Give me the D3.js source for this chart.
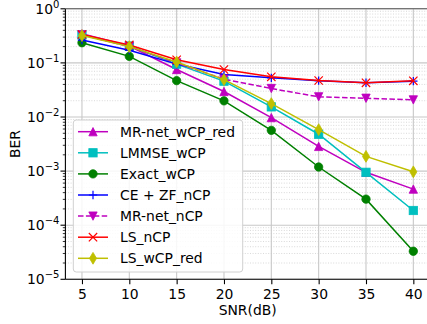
<!DOCTYPE html>
<html>
<head>
<meta charset="utf-8">
<script src="https://d3js.org/d3.v7.min.js"></script>
<style>
  body { margin: 0; background: #fff; }
  text { font-family: "DejaVu Sans", sans-serif; }
</style>
</head>
<body>
<div id="chart"></div>
<script>
// Data
const snr = [5, 10, 15, 20, 25, 30, 35, 40];
const mrnetWcpRed = [0.345, 0.205, 0.0756, 0.0296, 0.00975, 0.00286, 0.00095, 0.000465];
const lmmseWcp    = [0.33, 0.205, 0.095, 0.046, 0.0154, 0.0048, 0.00095, 0.000187];
const exactWcp    = [0.236, 0.132, 0.047, 0.0199, 0.00567, 0.00119, 0.000303, 0.000033];
const ceZfNcp     = [0.264, 0.172, 0.095, 0.061, 0.053, 0.047, 0.043, 0.046];
const mrnetNcp    = [0.33, 0.2, 0.1, 0.05, 0.0336, 0.0236, 0.0222, 0.0207];
const lsNcp       = [0.335, 0.215, 0.114, 0.0756, 0.0553, 0.0473, 0.0428, 0.0467];
const lsWcpRed    = [0.32, 0.2, 0.104, 0.049, 0.0177, 0.00584, 0.00187, 0.00097];
const yTickExps = [0, -1, -2, -3, -4, -5];

const series = [
  { name: "MR-net_wCP_red", values: mrnetWcpRed, color: "#bf00bf", marker: "triangleUp", dash: null },
  { name: "LMMSE_wCP", values: lmmseWcp, color: "#00bfbf", marker: "square", dash: null },
  { name: "Exact_wCP", values: exactWcp, color: "#008000", marker: "circle", dash: null },
  { name: "CE + ZF_nCP", values: ceZfNcp, color: "#0000ff", marker: "plus", dash: null },
  { name: "MR-net_nCP", values: mrnetNcp, color: "#bf00bf", marker: "triangleDown", dash: "5.5,2.4" },
  { name: "LS_nCP", values: lsNcp, color: "#ff0000", marker: "x", dash: null },
  { name: "LS_wCP_red", values: lsWcpRed, color: "#bfbf00", marker: "diamond", dash: null }
];

const width = 427, height = 324;
const mLeft = 65.4, mRight = 429.9, mTop = 8.8, mBottom = 279.3;
const fontSize = 13.9;

const svg = d3.select("#chart").append("svg")
  .attr("width", width).attr("height", height);

const x = d3.scaleLinear().domain([3.25, 41.75]).range([mLeft, mRight]);
const y = d3.scaleLog().domain([1e-5, 1]).range([mBottom, mTop]);

// minor grid
const minorVals = [];
for (let e = -5; e < 0; e++) for (let m = 2; m <= 9; m++) minorVals.push(m * Math.pow(10, e));

svg.append("g").selectAll("line").data(minorVals).enter().append("line")
  .attr("x1", mLeft).attr("x2", mRight)
  .attr("y1", d => y(d)).attr("y2", d => y(d))
  .attr("stroke", "#cfcfcf").attr("stroke-width", 0.8).attr("stroke-dasharray", "1,1.6");

// major grid
svg.append("g").selectAll("line").data(yTickExps).enter().append("line")
  .attr("x1", mLeft).attr("x2", mRight)
  .attr("y1", d => y(Math.pow(10, d))).attr("y2", d => y(Math.pow(10, d)))
  .attr("stroke", "#c8c8c8").attr("stroke-width", 1.1);
svg.append("g").selectAll("line").data(snr).enter().append("line")
  .attr("x1", d => x(d)).attr("x2", d => x(d))
  .attr("y1", mTop).attr("y2", mBottom)
  .attr("stroke", "#c8c8c8").attr("stroke-width", 1.1);

// x axis
const xAxis = svg.append("g").attr("transform", `translate(0,${mBottom})`)
  .call(d3.axisBottom(x).tickValues(snr).tickSize(4.9).tickPadding(4.5).tickFormat(d3.format("d")));
xAxis.select(".domain").remove();
xAxis.selectAll("text").attr("font-size", fontSize).attr("fill", "#000")
  .attr("font-family", "DejaVu Sans");
xAxis.selectAll("line").attr("stroke", "#000").attr("stroke-width", 1.1);

// y axis ticks
const yAxis = svg.append("g");
yAxis.selectAll("line.minor").data(minorVals).enter().append("line")
  .attr("class", "minor")
  .attr("x1", mLeft - 2.6).attr("x2", mLeft)
  .attr("y1", d => y(d)).attr("y2", d => y(d))
  .attr("stroke", "#000").attr("stroke-width", 0.8);
yAxis.selectAll("line.major").data(yTickExps).enter().append("line")
  .attr("class", "major")
  .attr("x1", mLeft - 4.9).attr("x2", mLeft)
  .attr("y1", d => y(Math.pow(10, d))).attr("y2", d => y(Math.pow(10, d)))
  .attr("stroke", "#000").attr("stroke-width", 1.1);
const yLab = yAxis.selectAll("text").data(yTickExps).enter().append("text")
  .attr("x", mLeft - 6)
  .attr("y", d => y(Math.pow(10, d)) + 5)
  .attr("text-anchor", "end")
  .attr("font-size", fontSize);
yLab.append("tspan").text("10");
yLab.append("tspan").attr("dy", -6).attr("font-size", fontSize * 0.72)
  .text(d => d === 0 ? "0" : "\u2212" + Math.abs(d));

// spines
svg.append("line").attr("x1", mLeft).attr("x2", mLeft).attr("y1", mTop).attr("y2", mBottom)
  .attr("stroke", "#000").attr("stroke-width", 1.1);
svg.append("line").attr("x1", mLeft).attr("x2", mRight).attr("y1", mBottom).attr("y2", mBottom)
  .attr("stroke", "#000").attr("stroke-width", 1.1);
svg.append("line").attr("x1", mLeft).attr("x2", mRight).attr("y1", mTop).attr("y2", mTop)
  .attr("stroke", "#555").attr("stroke-width", 1.1);

// axis labels
svg.append("text").attr("x", (mLeft + mRight) / 2).attr("y", 315)
  .attr("text-anchor", "middle").attr("font-size", fontSize).text("SNR(dB)");
svg.append("text").attr("transform", `translate(20,${(mTop + mBottom) / 2}) rotate(-90)`)
  .attr("text-anchor", "middle").attr("font-size", fontSize).text("BER");

// markers (matplotlib markersize 6pt -> ~8.3px)
function drawMarker(g, type, cx, cy, color) {
  const s = 4.17;
  let m;
  if (type === "circle") {
    m = g.append("circle").attr("cx", cx).attr("cy", cy).attr("r", s);
  } else if (type === "square") {
    m = g.append("rect").attr("x", cx - s).attr("y", cy - s)
      .attr("width", s * 2).attr("height", s * 2);
  } else if (type === "triangleUp") {
    m = g.append("path").attr("d", `M${cx},${cy - s}L${cx + s},${cy + s}L${cx - s},${cy + s}Z`);
  } else if (type === "triangleDown") {
    m = g.append("path").attr("d", `M${cx},${cy + s}L${cx + s},${cy - s}L${cx - s},${cy - s}Z`);
  } else if (type === "diamond") {
    const h = s * 1.414, w = h * 0.6;
    m = g.append("path").attr("d", `M${cx},${cy - h}L${cx + w},${cy}L${cx},${cy + h}L${cx - w},${cy}Z`);
  } else if (type === "plus") {
    g.append("path").attr("d", `M${cx - s},${cy}H${cx + s}M${cx},${cy - s}V${cy + s}`)
      .attr("stroke", color).attr("stroke-width", 1.2);
    return;
  } else if (type === "x") {
    g.append("path").attr("d", `M${cx - s},${cy - s}L${cx + s},${cy + s}M${cx - s},${cy + s}L${cx + s},${cy - s}`)
      .attr("stroke", color).attr("stroke-width", 1.2);
    return;
  }
  m.attr("fill", color).attr("stroke", color).attr("stroke-width", 0.8);
}

const plot = svg.append("g");
const line = d3.line().x((d, i) => x(snr[i])).y(d => y(d));
series.forEach(s => {
  const g = plot.append("g");
  g.append("path").attr("d", line(s.values))
    .attr("fill", "none").attr("stroke", s.color).attr("stroke-width", 1.5)
    .attr("stroke-dasharray", s.dash);
  s.values.forEach((v, i) => drawMarker(g, s.marker, x(snr[i]), y(v), s.color));
});

// legend
const lg = svg.append("g");
const lgX = 73.3, lgY = 120, lgW = 169.4, rowH = 21.1;
lg.append("rect").attr("x", lgX).attr("y", lgY).attr("width", lgW).attr("height", 152)
  .attr("rx", 3).attr("fill", "#fff").attr("fill-opacity", 0.85)
  .attr("stroke", "#d0d0d0").attr("stroke-width", 1);
series.forEach((s, i) => {
  const cy = 131.7 + i * rowH;
  lg.append("line").attr("x1", 78).attr("x2", 108).attr("y1", cy).attr("y2", cy)
    .attr("stroke", s.color).attr("stroke-width", 1.5).attr("stroke-dasharray", s.dash);
  drawMarker(lg, s.marker, 93, cy, s.color);
  lg.append("text").attr("x", 120).attr("y", cy + 5).attr("font-size", fontSize).text(s.name);
});
</script>
</body>
</html>
